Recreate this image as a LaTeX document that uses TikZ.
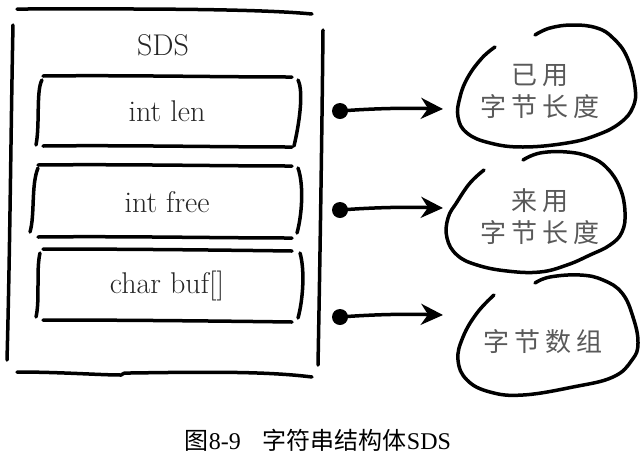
\documentclass[tikz,border=0pt]{standalone}
\usepackage{fontspec}
\newfontfamily\cjk{Noto Sans CJK SC}
\newfontfamily\capserif{Liberation Serif}
\usetikzlibrary{arrows.meta}
\newcommand{\hgap}{\hspace{5pt}}
\begin{document}
\begin{tikzpicture}[x=1pt,y=-1pt,
  ink/.style={line width=3.5pt, line cap=round, line join=round},
  field/.style={font=\fontsize{30}{34}\selectfont, text=black!85},
  hand/.style={font=\cjk\fontsize{26}{32}\selectfont, text=black!65, align=center},
  dotnode/.style={circle, fill=black, inner sep=0pt, minimum size=16pt},
  link/.style={line width=3.5pt, -{Stealth[length=22pt,width=21pt,inset=7pt]}},
]
\useasboundingbox (0,0) rectangle (642,456);

% outer SDS box
\draw[ink] (17,9) .. controls (110,9) and (250,8) .. (312,14);
\draw[ink] (13,25) .. controls (11,120) and (10,250) .. (7,360);
\draw[ink] (323,30) .. controls (322,130) and (320,260) .. (318,365);
\draw[ink] (17,372) .. controls (60,372) and (100,375) .. (121,375)
  .. controls (123,373) and (124,373) .. (130,373)
  .. controls (200,372) and (265,371) .. (312,377);

% field 1
\draw[ink] (43,76) .. controls (120,75) and (220,77) .. (292,77);
\draw[ink] (43,146) .. controls (120,145) and (220,147) .. (292,147);
\draw[ink] (42,80) .. controls (36,90) and (40,125) .. (36,145);
\draw[ink] (298,80) .. controls (304,92) and (299,125) .. (294,146);

% field 2
\draw[ink] (38,165) .. controls (120,164) and (220,166) .. (292,166);
\draw[ink] (38,237) .. controls (120,236) and (220,238) .. (292,238);
\draw[ink] (38,168) .. controls (31,185) and (35,215) .. (30,232);
\draw[ink] (298,168) .. controls (304,185) and (302,215) .. (297,233);

% field 3
\draw[ink] (43,249) .. controls (120,249) and (220,250) .. (292,251);
\draw[ink] (43,320) .. controls (120,320) and (220,321) .. (292,322);
\draw[ink] (40,253) .. controls (36,270) and (40,300) .. (36,317);
\draw[ink] (300,253) .. controls (305,270) and (303,300) .. (298,318);

\node[field] (sds) at (163,45) {SDS};
\node[field] (len) at (167,111) {int len};
\node[field] (free) at (167,202) {int free};
\node[field] (buf) at (167,286) {char buf[]};

% blobs
\draw[ink] plot[smooth, tension=0.7] coordinates {(495,47) (482,58) (468,77) (460,97) (458,117) (467,133) (490,143) (523,147) (567,143) (597,135) (620,123) (633,107) (635,87) (627,57) (613,38) (597,28) (573,25) (550,28) (535,35)};
\draw[ink] plot[smooth, tension=0.7] coordinates {(484,170) (470,183) (457,202) (448,218) (447,238) (457,255) (477,265) (507,271) (540,272) (567,265) (590,255) (610,245) (622,232) (625,212) (620,188) (607,168) (590,157) (567,152) (540,153) (523,160)};
\draw[ink] plot[smooth, tension=0.7] coordinates {(494,295) (477,313) (463,337) (458,360) (467,380) (490,392) (523,395) (573,387) (613,377) (632,360) (638,343) (633,317) (622,293) (603,280) (580,275) (550,277) (535,283)};

\node[hand] (used) at (540,91) {已\hgap 用\\字\hgap 节\hgap 长\hgap 度};
\node[hand] (unused) at (540,217) {来\hgap 用\\字\hgap 节\hgap 长\hgap 度};
\node[hand] (bytes) at (543,342) {字\hgap 节\hgap 数\hgap 组};

% pointers
\node[dotnode] (d1) at (340,111) {};
\node[dotnode] (d2) at (340,210) {};
\node[dotnode] (d3) at (340,317) {};
\coordinate (t1) at (443,109);
\coordinate (t2) at (443,208);
\coordinate (t3) at (443,315);
\draw[link] (d1.center) .. controls (380,108) and (410,108) .. (t1);
\draw[link] (d2.center) .. controls (380,207) and (410,207) .. (t2);
\draw[link] (d3.center) .. controls (380,314) and (410,314) .. (t3);

% caption
\node[font=\fontsize{24}{28}\selectfont] (cap) at (318,440)
  {{\cjk 图}{\capserif 8-9}\hspace{22pt}{\cjk 字符串结构体}{\capserif SDS}};
\end{tikzpicture}
\end{document}
